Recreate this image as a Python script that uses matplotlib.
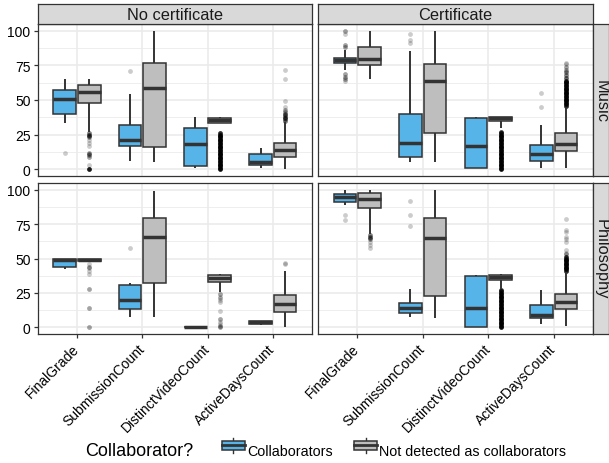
import matplotlib
matplotlib.use("Agg")
import matplotlib.pyplot as plt
from matplotlib.patches import Rectangle
from matplotlib.lines import Line2D
from matplotlib.legend_handler import HandlerBase

plt.rcParams['font.family'] = ['Liberation Sans', 'DejaVu Sans']

# ---------------- data ----------------
variables = ["FinalGrade", "SubmissionCount", "DistinctVideoCount", "ActiveDaysCount"]
cert_labels = ["No certificate", "Certificate"]
course_labels = ["Music", "Philosophy"]
group_labels = ["Collaborators", "Not detected as collaborators"]
group_colors = ["#56B4E9", "#BEBEBE"]
y_ticks = [0, 25, 50, 75, 100]

# five-number summaries per variable: (whisker low, Q1, median, Q3, whisker high)
music_nocert_collab = [(33, 40, 50.5, 57, 65), (6, 17, 21, 32, 54),
                       (0.5, 2, 18, 30, 38), (1, 3, 5, 11, 15)]
music_nocert_other = [(26.5, 47.5, 56, 61, 65), (5, 16, 59, 77, 100),
                      (33, 33, 35.7, 37, 38), (0, 8.5, 13.5, 19, 34)]
music_cert_collab = [(71.5, 76.5, 79.3, 80.7, 86), (5, 9, 19, 40, 85.5),
                     (0.5, 1, 16.5, 37, 38), (1, 6, 11, 17.5, 32)]
music_cert_other = [(65, 75.5, 80, 88.5, 100), (5, 26, 64, 76, 100),
                    (29.5, 34.5, 37.2, 38, 38), (1, 13, 18, 26, 44.5)]
philo_nocert_collab = [(42, 44, 49, 50, 50), (7.5, 13, 20, 30.5, 32),
                       (0, 0, 0, 0, 0), (1.5, 2.5, 3.6, 4.8, 4.8)]
philo_nocert_other = [(48.5, 48.5, 49, 49.5, 50), (7.5, 32, 66, 79.5, 99.5),
                      (25.5, 33, 35.7, 38, 38.5), (0, 11.3, 16.5, 23.3, 41)]
philo_cert_collab = [(88.7, 91, 94.5, 97, 100), (7.5, 10, 14, 17.5, 28),
                     (0, 0, 14, 37, 38), (2.5, 6.5, 9, 16, 27)]
philo_cert_other = [(68, 86.5, 93.5, 98, 100), (7, 23, 65, 79.5, 100),
                    (28, 34, 36.7, 38, 38.5), (1, 13, 18.5, 24, 40)]

# outliers per variable: (value, number of overlapping points)
dense_video = [(0, 10), (1, 8), (2, 8), (3, 8), (4, 8), (5, 8), (6, 8), (7, 8), (8, 8),
               (9, 8), (10, 8), (11, 8), (12, 8), (13, 8), (14, 8), (15, 8), (16, 8),
               (17, 8), (18, 8), (19, 8), (20, 8), (21, 8), (22, 8), (23, 8), (24, 8),
               (25, 8), (26, 8), (27, 6)]
music_nocert_collab_out = [[(12, 1)], [(71, 1)], [], []]
music_nocert_other_out = [
    [(26, 3), (25, 4), (24, 3), (23, 2), (21, 1), (19, 1), (17, 1), (12, 2), (11, 2),
     (10, 2), (9, 2), (3, 1), (0, 10)],
    [],
    dense_video[:27],
    [(72, 1), (65, 1), (49, 1), (45, 1), (43, 2), (41, 2), (40, 3), (39, 3), (38, 3),
     (37, 3), (36, 3), (35, 3)]]
music_cert_collab_out = [
    [(100, 2), (98, 1), (90, 2), (88, 2), (69, 2), (67, 2), (65, 2), (64, 1)],
    [(97.5, 1), (93.5, 1), (91.5, 1)],
    [],
    [(55, 1), (45, 1)]]
music_cert_other_out = [
    [], [], dense_video,
    [(77, 1), (76, 1), (74, 2), (72, 2), (70, 3), (68, 3), (66, 4), (64, 8), (63, 8),
     (62, 8), (61, 8), (60, 8), (59, 8), (58, 8), (57, 8), (56, 8), (55, 8), (54, 8),
     (53, 8), (52, 8), (51, 8), (50, 8), (49, 8), (48, 8), (47, 8), (46, 8)]]
philo_nocert_collab_out = [[], [(58, 1)], [], []]
philo_nocert_other_out = [
    [(46, 1), (44, 2), (43, 1), (41, 1), (39, 1), (28, 2), (14, 2), (0, 2)],
    [],
    [(24, 2), (22, 1), (21, 1), (20, 1), (18, 1), (12, 1), (6, 2), (4, 1), (2, 1),
     (1, 2), (0, 2)],
    [(47, 1), (46, 1)]]
philo_cert_collab_out = [[(81.5, 1), (78, 1)], [(92, 1), (82, 1), (74, 1)], [], []]
philo_cert_other_out = [
    [(67, 3), (66, 3), (65, 2), (64, 2), (62, 1), (60, 1), (58, 1)],
    [],
    dense_video,
    [(79, 1), (70.5, 1), (69, 1), (66, 1), (64, 1), (62, 1), (56, 1), (54, 1), (53, 2),
     (51, 8), (50, 8), (49, 8), (48, 8), (47, 8), (46, 8), (45, 8), (44, 8), (43, 8),
     (42, 8), (41, 8)]]

panels = {
    (0, 0): (music_nocert_collab, music_nocert_other, music_nocert_collab_out, music_nocert_other_out),
    (0, 1): (music_cert_collab, music_cert_other, music_cert_collab_out, music_cert_other_out),
    (1, 0): (philo_nocert_collab, philo_nocert_other, philo_nocert_collab_out, philo_nocert_other_out),
    (1, 1): (philo_cert_collab, philo_cert_other, philo_cert_collab_out, philo_cert_other_out),
}

# ---------------- layout ----------------
W, H = 609, 464
fig = plt.figure(figsize=(W / 100, H / 100), dpi=100)

EDGE = "#333333"
col_x = [(37.7, 312.0), (318.0, 593.0)]
row_y = [(25.0, 177.0), (184.0, 335.0)]
strip_top = (5.0, 25.0)
strip_right = (593.0, 608.5)


def fig_rect(x0, x1, y0, y1):
    return [x0 / W, 1 - y1 / H, (x1 - x0) / W, (y1 - y0) / H]


def draw_panel(ax, stats_pair, outs_pair):
    offsets = [-0.1875, 0.1875]
    for gi in range(2):
        stats = stats_pair[gi]
        outs = outs_pair[gi]
        off = offsets[gi]
        pos = [vi + 1 + off for vi in range(len(variables))]
        for vi, fl in enumerate(outs):
            for val, cnt in fl:
                a = 1 - (1 - 0.2) ** cnt
                ax.scatter([pos[vi]], [val], s=12, color="black", alpha=a,
                           linewidths=0, zorder=2)
        bstats = [dict(whislo=s[0], q1=s[1], med=s[2], q3=s[3], whishi=s[4], fliers=[])
                  for s in stats]
        ax.bxp(bstats, positions=pos, widths=0.35, patch_artist=True,
               showcaps=False, showfliers=False, manage_ticks=False,
               boxprops=dict(facecolor=group_colors[gi], edgecolor=EDGE, linewidth=1.1),
               whiskerprops=dict(color=EDGE, linewidth=1.4, solid_capstyle='butt'),
               medianprops=dict(color=EDGE, linewidth=2.5, solid_capstyle='butt'),
               zorder=3)


for r in range(2):
    for c in range(2):
        ax = fig.add_axes(fig_rect(col_x[c][0], col_x[c][1], row_y[r][0], row_y[r][1]))
        s1, s2, o1, o2 = panels[(r, c)]
        draw_panel(ax, (s1, s2), (o1, o2))
        ax.set_xlim(0.4, 4.6)
        ax.set_ylim(-5, 105)
        ax.set_yticks(y_ticks)
        ax.set_yticks([12.5, 37.5, 62.5, 87.5], minor=True)
        ax.set_xticks(range(1, len(variables) + 1))
        ax.grid(True, which='major', color='#EBEBEB', linewidth=1.2, zorder=0)
        ax.grid(True, which='minor', axis='y', color='#EBEBEB', linewidth=0.6, zorder=0)
        ax.set_axisbelow(True)
        for sp in ax.spines.values():
            sp.set_color(EDGE)
            sp.set_linewidth(0.9)
        ax.tick_params(which='minor', length=0)
        ax.tick_params(which='major', length=3.2, width=0.9, color=EDGE,
                       labelsize=10, labelcolor='black', pad=2)
        if c == 0:
            ax.set_yticklabels([str(t) for t in y_ticks])
        else:
            ax.tick_params(axis='y', which='major', length=0, labelleft=False)
        if r == 1:
            ax.set_xticklabels(variables, rotation=45, ha='right', va='center',
                               rotation_mode='anchor')
            ax.tick_params(axis='x', pad=5.5)
        else:
            ax.tick_params(axis='x', which='major', length=0, labelbottom=False)

# strips
for c in range(2):
    sax = fig.add_axes(fig_rect(col_x[c][0], col_x[c][1], strip_top[0], strip_top[1]))
    sax.set_facecolor('#D9D9D9')
    sax.set_xticks([]); sax.set_yticks([])
    for sp in sax.spines.values():
        sp.set_color(EDGE); sp.set_linewidth(0.9)
    sax.text(0.5, 0.45, cert_labels[c], ha='center', va='center', fontsize=11.8,
             color='#1A1A1A', transform=sax.transAxes)
for r in range(2):
    sax = fig.add_axes(fig_rect(strip_right[0], strip_right[1], row_y[r][0], row_y[r][1]))
    sax.set_facecolor('#D9D9D9')
    sax.set_xticks([]); sax.set_yticks([])
    for sp in sax.spines.values():
        sp.set_color(EDGE); sp.set_linewidth(0.9)
    sax.text(0.5, 0.5, course_labels[r], ha='center', va='center', fontsize=11.8,
             rotation=-90, color='#1A1A1A', transform=sax.transAxes)


# legend with boxplot-style keys
class BoxKey(HandlerBase):
    def create_artists(self, legend, orig, xd, yd, width, height, fontsize, trans):
        fc = orig.get_facecolor()
        top = yd + height
        bot = yd
        b0 = yd + height * 0.2
        b1 = yd + height * 0.8
        mid = yd + height * 0.5
        xm = xd + width / 2
        w1 = Line2D([xm, xm], [b1, top], color=EDGE, lw=1.0, transform=trans)
        w2 = Line2D([xm, xm], [bot, b0], color=EDGE, lw=1.0, transform=trans)
        rect = Rectangle((xd, b0), width, b1 - b0, facecolor=fc, edgecolor=EDGE,
                         lw=1.1, transform=trans)
        med = Line2D([xd, xd + width], [mid, mid], color=EDGE, lw=2.0, transform=trans)
        return [w1, w2, rect, med]


handles = [Rectangle((0, 0), 1, 1, facecolor=group_colors[i], edgecolor=EDGE)
           for i in range(2)]
fig.text(85 / W, 1 - 452 / H, "Collaborator?", fontsize=13, ha='left', va='center',
         color='black')
fig.legend(handles, group_labels, loc='center left', bbox_to_anchor=(222 / W, 1 - 451.5 / H),
           ncol=2, frameon=False, fontsize=10.3, handlelength=1.6, handleheight=1.2,
           handletextpad=0.15, columnspacing=1.5, borderpad=0, borderaxespad=0,
           handler_map={Rectangle: BoxKey()})

fig.savefig("out.png", dpi=100)
